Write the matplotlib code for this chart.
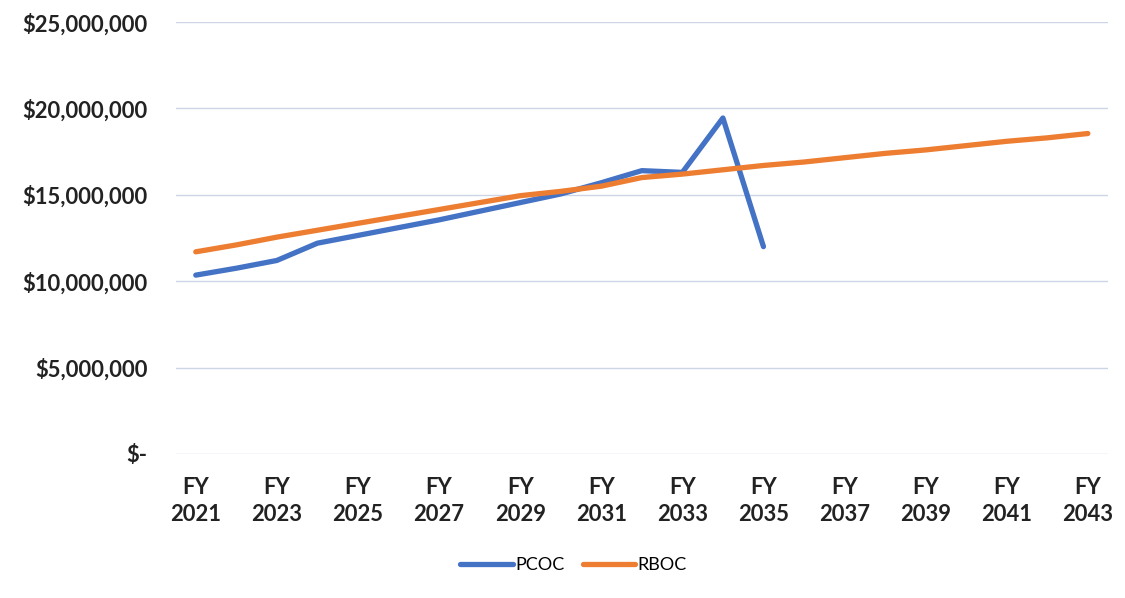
import matplotlib.pyplot as plt
from matplotlib.ticker import FuncFormatter

years = list(range(2021, 2044))
pcoc = [10.35, 10.75, 11.2, 12.2, 12.65, 13.1, 13.55, 14.05, 14.55, 15.05,
        15.7, 16.4, 16.3, 19.45, 12.0]
rboc = [11.7, 12.1, 12.55, 12.95, 13.35, 13.75, 14.15, 14.55, 14.95, 15.2,
        15.5, 16.0, 16.2, 16.45, 16.7, 16.9, 17.15, 17.4, 17.6, 17.85,
        18.1, 18.3, 18.55]
labels = [f"FY\n{y}" for y in years]

plt.rcParams['font.family'] = ['Lato', 'DejaVu Sans']

fig = plt.figure(figsize=(11.25, 5.98), dpi=100)
ax = fig.add_axes([0.156, 0.241, 0.829, 0.722])

x = range(len(years))
ax.plot(range(len(pcoc)), [v * 1e6 for v in pcoc], color='#4472C4', lw=3.8,
        solid_capstyle='round', label='PCOC')
ax.plot(x, [v * 1e6 for v in rboc], color='#ED7D31', lw=3.8,
        solid_capstyle='round', label='RBOC')

ax.set_xlim(-0.5, len(years) - 0.5)
ax.set_ylim(0, 25e6)
ax.set_yticks([0, 5e6, 10e6, 15e6, 20e6, 25e6])
ax.yaxis.set_major_formatter(FuncFormatter(
    lambda v, p: "$-" if v == 0 else f"${v:,.0f}"))
ax.set_xticks(list(x)[::2])
ax.set_xticklabels(labels[::2])

ax.grid(axis='y', color='#cdd6e6', lw=1)
ax.set_axisbelow(True)
for s in ax.spines.values():
    s.set_visible(False)
ax.tick_params(length=0, labelsize=15.8, colors='#222222')
ax.tick_params(axis='y', pad=20)
ax.tick_params(axis='x', pad=17)
for t in ax.get_xticklabels() + ax.get_yticklabels():
    t.set_fontweight('bold')
for t in ax.get_xticklabels():
    t.set_linespacing(1.3)

fig.legend(loc='center', bbox_to_anchor=(0.51, 0.055), ncol=2, frameon=False,
           fontsize=13, handlelength=2.9, handletextpad=0.15, columnspacing=1.0)

fig.savefig('out.png', dpi=100)
